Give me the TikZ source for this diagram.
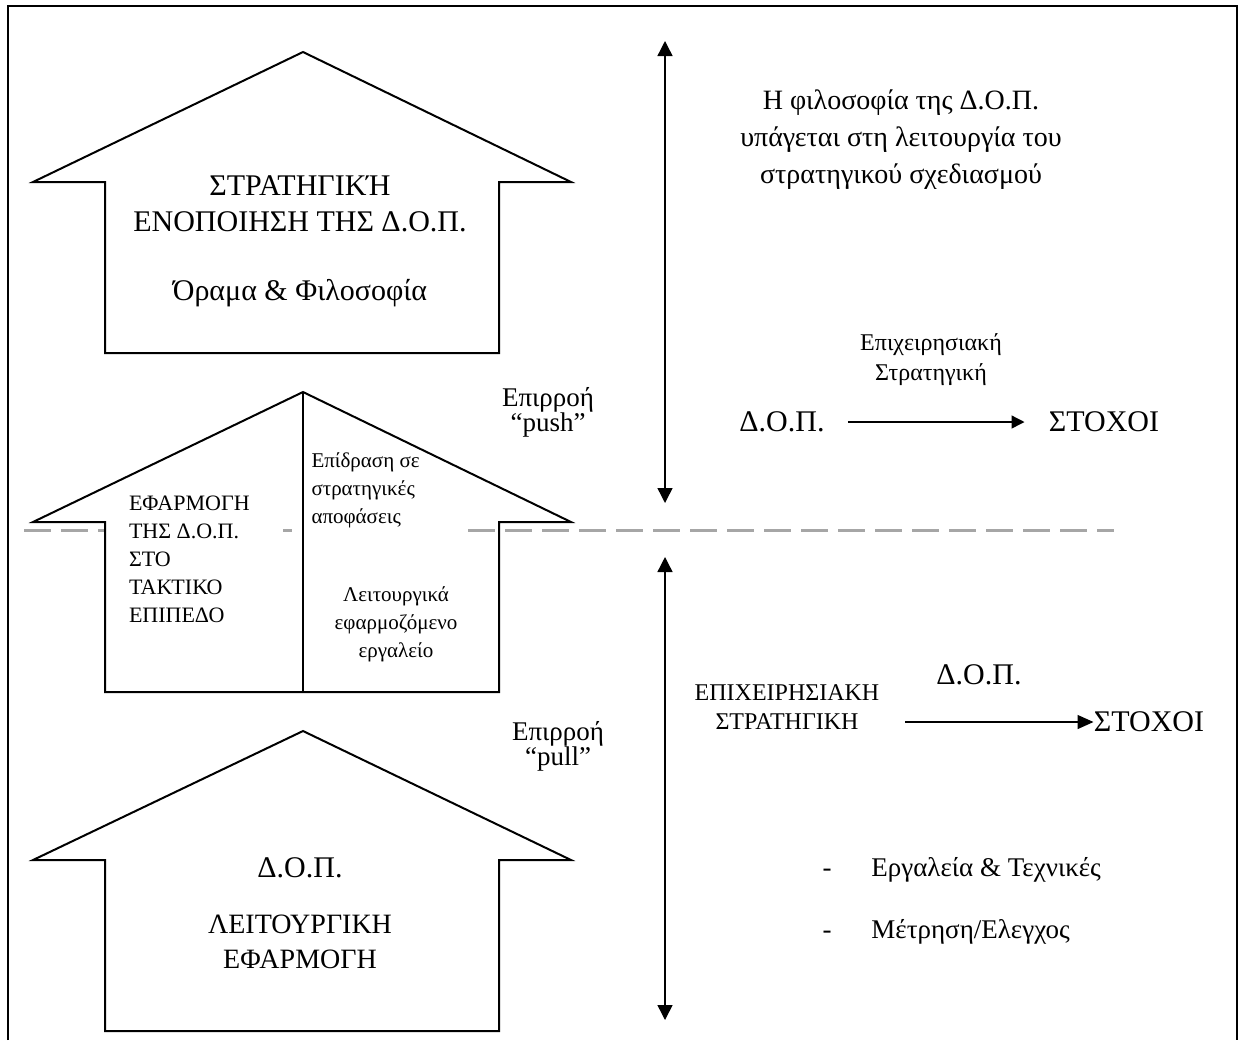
\documentclass[tikz,border=0pt]{standalone}
\usepackage{fontspec}
\setmainfont{Liberation Serif}
\usetikzlibrary{arrows.meta}
\begin{document}
\begin{tikzpicture}[x=0.5pt,y=-0.5pt,
  house/.style={line width=1pt, line join=miter},
  frame/.style={line width=1.2pt},
  sep/.style={line width=1.5pt, color=black!35, dash pattern=on 13.5pt off 5pt},
  vaxis/.style={line width=0.7pt, {Triangle[length=7.5pt,width=7.5pt]}-{Triangle[length=7.5pt,width=7.5pt]}},
  flow/.style={line width=0.7pt, -{Triangle[length=6.5pt,width=6.5pt]}},
  txt/.style={inner sep=0pt, align=center},
  big/.style={font=\fontsize{15}{18}\selectfont},
  small/.style={font=\fontsize{10.5}{14}\selectfont},
]
\useasboundingbox (0,0) rectangle (1240,1040);

% outer frame (open at the bottom)
\draw[frame] (8,1040) -- (8,6) -- (1237,6) -- (1237,1040);

% boundary between the strategic and the operational level
\draw[sep] (24,530) -- (1114,530);

% text boxes of the middle house (white, they hide the boundary)
\node[font=\fontsize{11}{14}\selectfont, fill=white, inner xsep=11.5pt, inner ysep=6pt, text width=65pt, align=flush left]
  (tact) at (194,559) {ΕΦΑΡΜΟΓΗ\\ΤΗΣ Δ.Ο.Π.\\ΣΤΟ\\ΤΑΚΤΙΚΟ\\ΕΠΙΠΕΔΟ};
\node[small, fill=white, inner xsep=10pt, inner ysep=8pt, text width=66.5pt, align=flush left]
  (impact) at (378,490) {Επίδραση σε\\στρατηγικές\\αποφάσεις};

% the three houses
\draw[house] (105,353) -- (105,182) -- (33,182) -- (303,52) -- (571,182)
  -- (499,182) -- (499,353) -- cycle;
\draw[house] (105,692) -- (105,522) -- (33,522) -- (303,392) -- (571,522)
  -- (499,522) -- (499,692) -- cycle;
\draw[house] (303,392) -- (303,692);
\draw[house] (105,1031) -- (105,860) -- (33,860) -- (303,731) -- (571,860)
  -- (499,860) -- (499,1031) -- cycle;

% texts inside the houses
\node[big, txt] (strat) at (300,204) {ΣΤΡΑΤΗΓΙΚΉ\\ΕΝΟΠΟΙΗΣΗ ΤΗΣ Δ.Ο.Π.};
\node[big, txt] (vision) at (300,293) {Όραμα \& Φιλοσοφία};
\node[small, txt] (tool) at (396,624) {Λειτουργικά\\εφαρμοζόμενο\\εργαλείο};
\node[big, txt] (dop3) at (300,868) {Δ.Ο.Π.};
\node[txt, font=\fontsize{14}{17.5}\selectfont] (func) at (300,942) {ΛΕΙΤΟΥΡΓΙΚΗ\\ΕΦΑΡΜΟΓΗ};

% influences
\node[txt, font=\fontsize{13.5}{12.5}\selectfont] (push) at (548,412) {Επιρροή\\“push”};
\node[txt, font=\fontsize{13.5}{12.5}\selectfont] (pull) at (558,746) {Επιρροή\\“pull”};

% vertical axes
\coordinate (ua) at (665,41);
\coordinate (ub) at (665,503);
\coordinate (la) at (665,557);
\coordinate (lb) at (665,1020);
\draw[vaxis] (ua) -- (ub);
\draw[vaxis] (la) -- (lb);

% strategic level, right side
\node[txt, font=\fontsize{14}{18.5}\selectfont] (philo) at (901,140)
  {Η φιλοσοφία της Δ.Ο.Π.\\υπάγεται στη λειτουργία του\\στρατηγικού σχεδιασμού};
\node[txt, font=\fontsize{12}{15}\selectfont] (bizstrat) at (931,360) {Επιχειρησιακή\\Στρατηγική};
\node[big, txt] (dop1) at (782,422) {Δ.Ο.Π.};
\node[big, txt] (goal1) at (1104,422) {ΣΤΟΧΟΙ};
\draw[flow, shorten <=11.5pt, shorten >=12pt] (dop1) -- (goal1);

% operational level, right side
\node[txt, font=\fontsize{12}{14.5}\selectfont] (opstrat) at (787,707) {ΕΠΙΧΕΙΡΗΣΙΑΚΗ\\ΣΤΡΑΤΗΓΙΚΗ};
\node[big, txt] (dop2) at (979,675) {Δ.Ο.Π.};
\node[big, txt] (goal2) at (1149,722) {ΣΤΟΧΟΙ};
\coordinate (fstart) at (905,722);
\draw[line width=0.7pt, -{Triangle[length=8pt,width=7pt]}] (fstart) -- (goal2.west);

% list of means
\node[txt, font=\fontsize{13.5}{16}\selectfont] (d1) at (827,873) {-};
\node[txt, font=\fontsize{13.5}{16}\selectfont, anchor=west] (tools) at (871,870) {Εργαλεία \& Τεχνικές};
\node[txt, font=\fontsize{13.5}{16}\selectfont] (d2) at (827,935) {-};
\node[txt, font=\fontsize{13.5}{16}\selectfont, anchor=west] (measure) at (871,932) {Μέτρηση/Ελεγχος};
\end{tikzpicture}
\end{document}
